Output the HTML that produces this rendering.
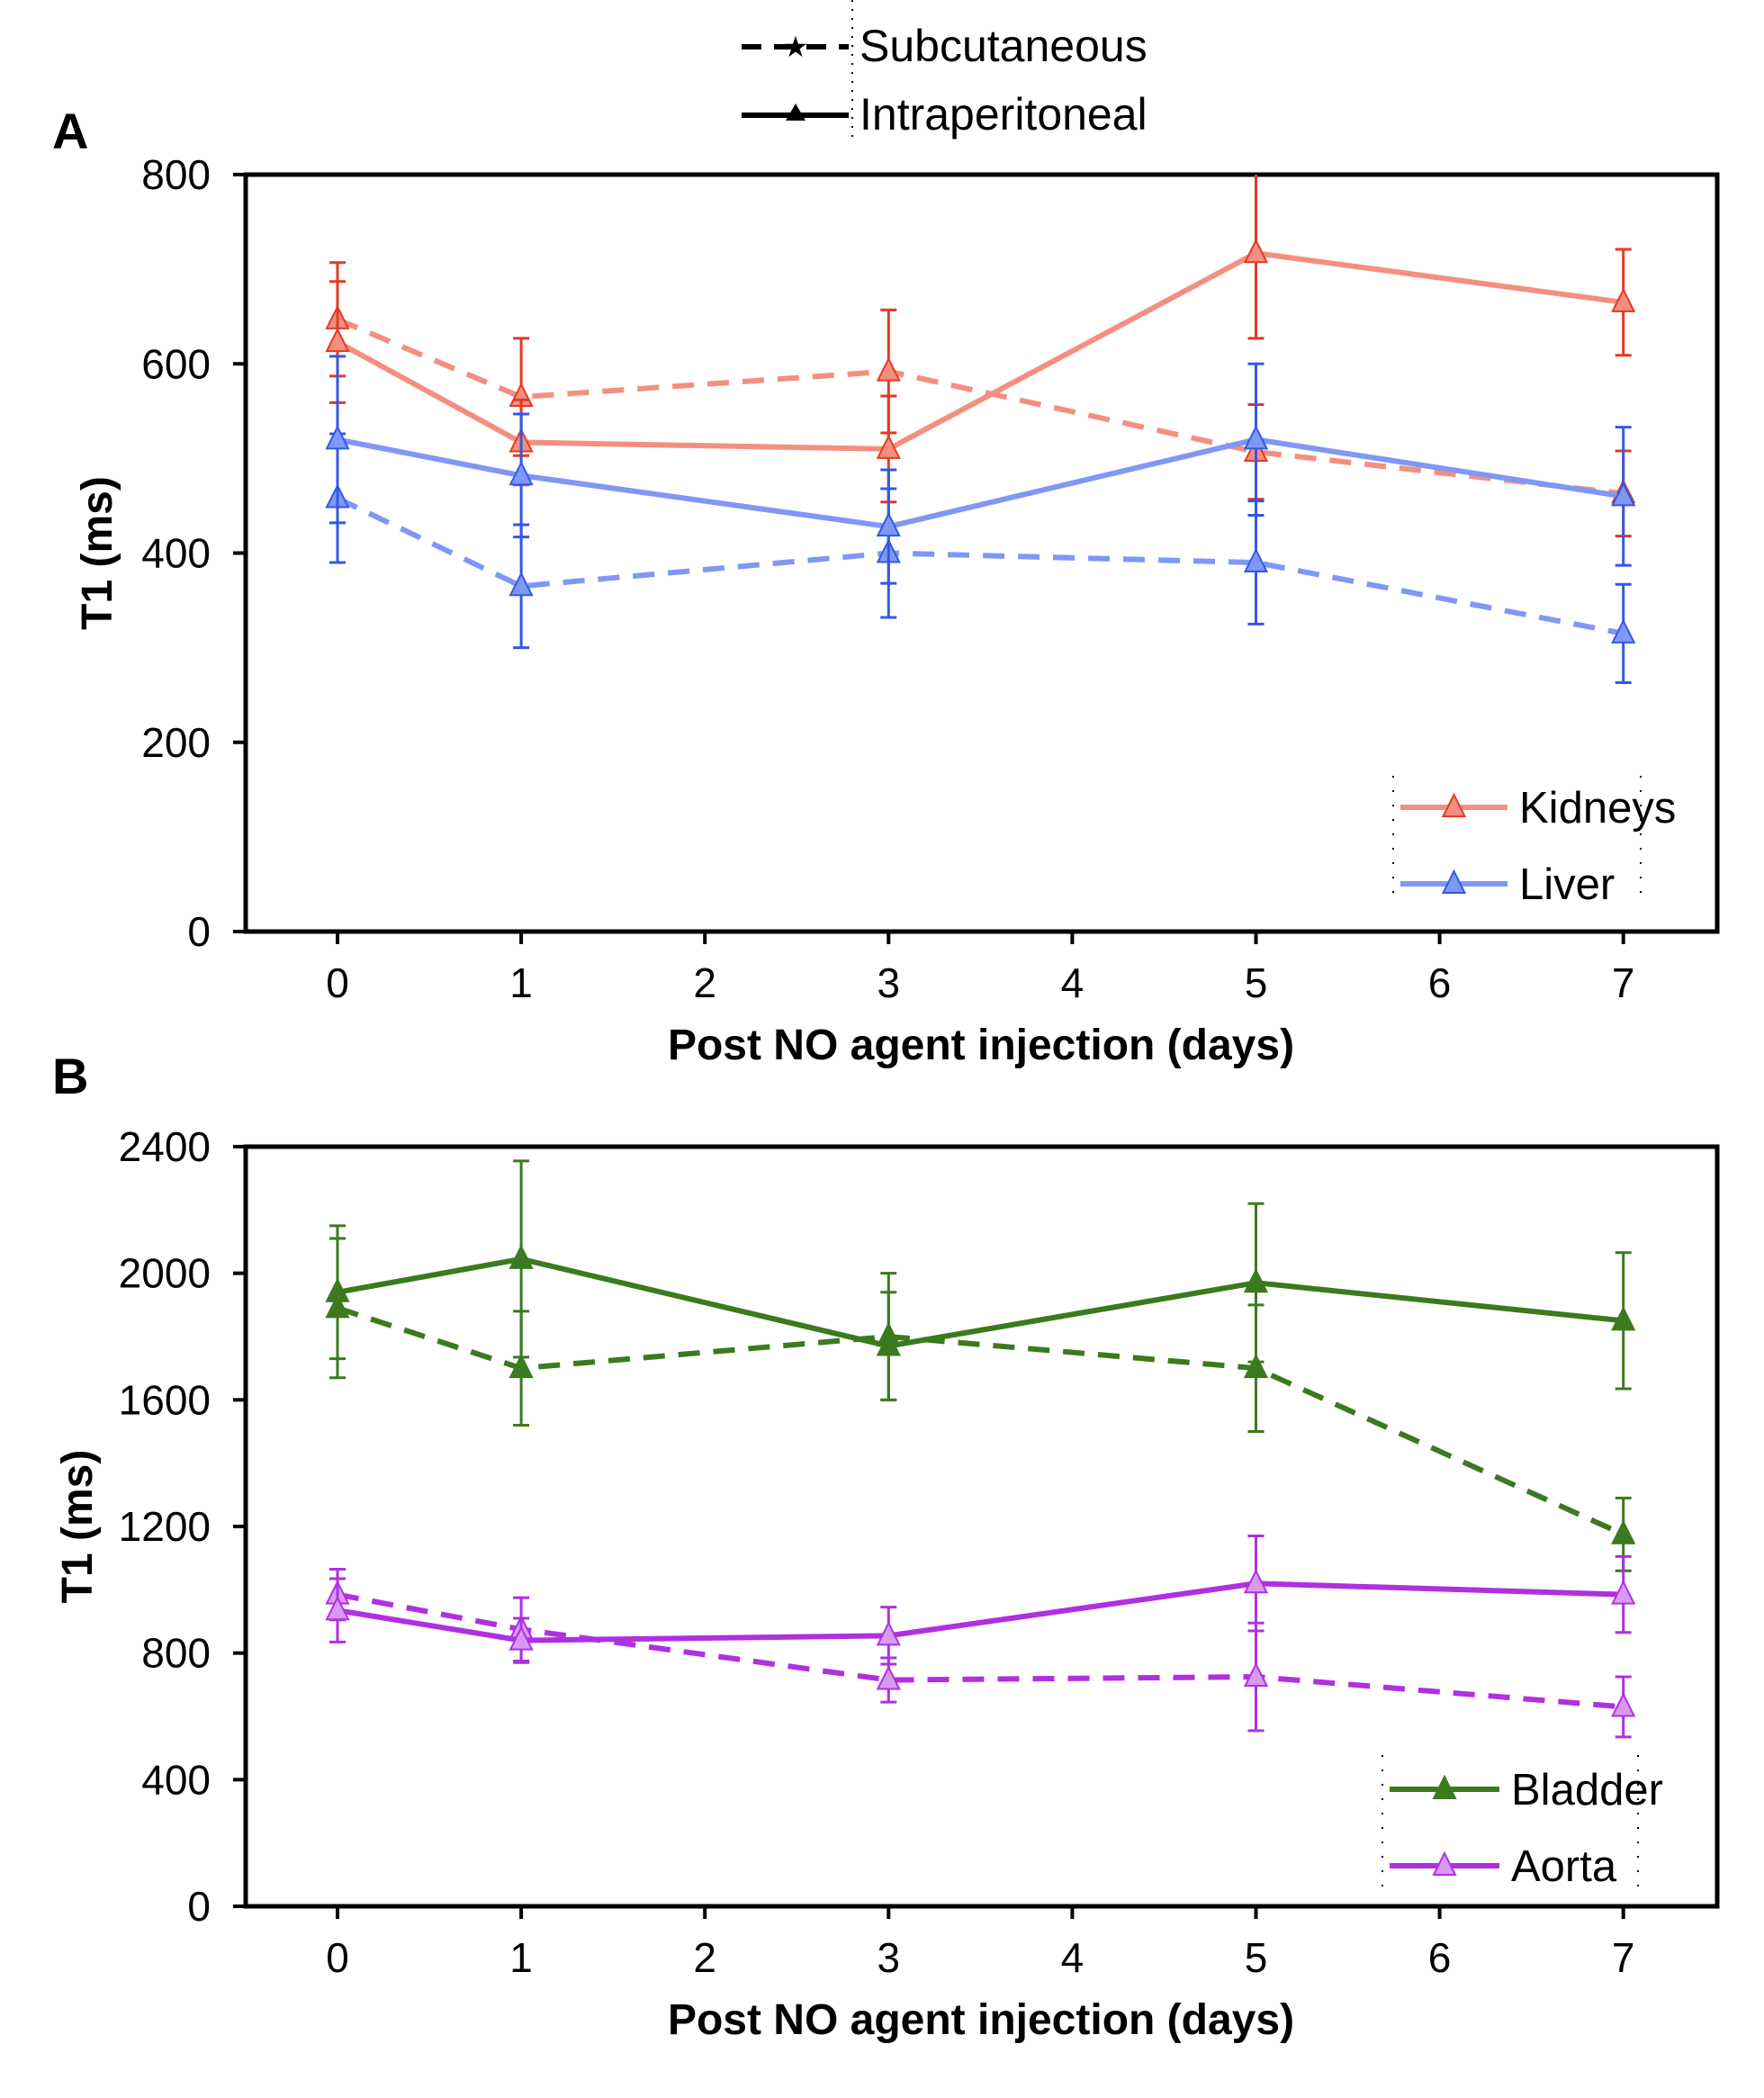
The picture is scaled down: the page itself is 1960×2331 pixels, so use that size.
<!DOCTYPE html>
<html><head><meta charset="utf-8"><style>
html,body{margin:0;padding:0;background:#fff;}
svg{display:block;font-family:"Liberation Sans",Arial,sans-serif;}
</style></head><body>
<svg id="fig" width="1960" height="2331" viewBox="0 0 1960 2331" xmlns="http://www.w3.org/2000/svg">
<defs>
<clipPath id="clipA"><rect x="273" y="194" width="1635" height="841"/></clipPath>
<clipPath id="clipB"><rect x="273" y="1274" width="1635" height="844"/></clipPath>
</defs>
<g>
  <line x1="947" y1="0" x2="947" y2="158" stroke="#000" stroke-width="2" stroke-dasharray="2,8"/>
  <line x1="824" y1="52" x2="943" y2="52" stroke="#000" stroke-width="6" stroke-dasharray="22,14"/>
  <text x="884" y="63" font-size="32" text-anchor="middle">★</text>
  <text x="955" y="68" font-size="50">Subcutaneous</text>
  <line x1="824" y1="128" x2="943" y2="128" stroke="#000" stroke-width="6"/>
  <polygon points="884,115 873,134 895,134" fill="#000"/>
  <text x="955" y="144" font-size="50">Intraperitoneal</text>
</g>
<text x="58" y="165" font-size="56" font-weight="bold">A</text>
<text x="58" y="1215" font-size="56" font-weight="bold">B</text>
<g id="chartA"></g>
<g id="chartB"></g>
</svg>
<script>
const days = [0, 1, 3, 5, 7];
const xTicks = [0, 1, 2, 3, 4, 5, 6, 7];
const ticksA = [0, 200, 400, 600, 800];
const ticksB = [0, 400, 800, 1200, 1600, 2000, 2400];
const kidneyIP = [623, 517, 510, 717, 665];
const kidneyIPErr = [64, 45, 56, 90, 56];
const kidneySC = [647, 565, 592, 507, 463];
const kidneySCErr = [60, 62, 65, 50, 45];
const liverIP = [520, 482, 428, 520, 460];
const liverIPErr = [88, 65, 60, 80, 73];
const liverSC = [458, 365, 400, 390, 315];
const liverSCErr = [68, 65, 68, 65, 52];
const bladderIP = [1940, 2045, 1770, 1970, 1850];
const bladderIPErr = [210, 310, 170, 250, 215];
const bladderSC = [1890, 1700, 1800, 1700, 1175];
const bladderSCErr = [220, 180, 200, 200, 115];
const aortaIP = [935, 840, 855, 1020, 985];
const aortaIPErr = [100, 70, 90, 150, 120];
const aortaSC = [985, 875, 715, 725, 630];
const aortaSCErr = [80, 100, 70, 170, 95];

const NS = 'http://www.w3.org/2000/svg';
function mk(parent, tag, attrs, text) {
  const e = document.createElementNS(NS, tag);
  for (const k in attrs) e.setAttribute(k, attrs[k]);
  if (text !== undefined) e.textContent = text;
  parent.appendChild(e);
  return e;
}
const L = 273, R = 1908, X0 = 375, DX = 204.1;
function xs(d) { return X0 + d * DX; }

function drawPanel(g, top, bot, maxV, ticks, prefix, titleX) {
  const ys = v => bot - (v / maxV) * (bot - top);
  const frame = mk(g, 'rect', {x: L, y: top, width: R - L, height: bot - top, fill: 'none', stroke: '#000', 'stroke-width': 5});
  
  
  ticks.forEach(t => {
    mk(g, 'line', {x1: L - 14, x2: L, y1: ys(t), y2: ys(t), stroke: '#000', 'stroke-width': 4});
    const tl = mk(g, 'text', {x: 234, y: ys(t) + 16, 'font-size': 46, 'text-anchor': 'end'}, String(t));
    
    
  });
  xTicks.forEach(t => {
    mk(g, 'line', {x1: xs(t), x2: xs(t), y1: bot, y2: bot + 14, stroke: '#000', 'stroke-width': 4});
    const tl = mk(g, 'text', {x: xs(t), y: bot + 73, 'font-size': 46, 'text-anchor': 'middle'}, String(t));
    
    
  });
  const xt = mk(g, 'text', {x: 1090, y: bot + 142, 'font-size': 48, 'font-weight': 'bold', 'text-anchor': 'middle'}, 'Post NO agent injection (days)');
  
  
  const cy = (top + bot) / 2;
  const yt = mk(g, 'text', {x: 0, y: 0, 'font-size': 48, 'font-weight': 'bold', 'text-anchor': 'middle', transform: 'translate(' + titleX + ',' + cy + ') rotate(-90)'}, 'T1 (ms)');
  
  
  return ys;
}

function series(g, ys, vals, errs, lineCol, barCol, fill, dashed, name, clip) {
  const s = mk(g, 'g', {'clip-path': 'url(#' + clip + ')'});
  
  
  vals.forEach((v, i) => {
    const x = xs(days[i]), y1 = ys(v + errs[i]), y2 = ys(v - errs[i]);
    mk(s, 'line', {x1: x, x2: x, y1: y1, y2: y2, stroke: barCol, 'stroke-width': 3});
    mk(s, 'line', {x1: x - 9, x2: x + 9, y1: y1, y2: y1, stroke: barCol, 'stroke-width': 3});
    mk(s, 'line', {x1: x - 9, x2: x + 9, y1: y2, y2: y2, stroke: barCol, 'stroke-width': 3});
  });
  const pts = vals.map((v, i) => xs(days[i]) + ',' + ys(v)).join(' ');
  const pl = mk(s, 'polyline', {points: pts, fill: 'none', stroke: lineCol, 'stroke-width': 6});
  if (dashed) pl.setAttribute('stroke-dasharray', '24,15');
  vals.forEach((v, i) => {
    const x = xs(days[i]), y = ys(v);
    const m = mk(s, 'polygon', {points: (x) + ',' + (y - 14) + ' ' + (x - 12) + ',' + (y + 10) + ' ' + (x + 12) + ',' + (y + 10), fill: fill, stroke: barCol, 'stroke-width': 2});
    
    
  });
}

function legend(g, x1, x2, entries, boxTop, boxBot, boxR, prefix) {
  mk(g, 'line', {x1: x1 - 8, x2: x1 - 8, y1: boxTop, y2: boxBot, stroke: '#000', 'stroke-width': 2, 'stroke-dasharray': '2,14'});
  mk(g, 'line', {x1: boxR, x2: boxR, y1: boxTop, y2: boxBot, stroke: '#000', 'stroke-width': 2, 'stroke-dasharray': '2,14'});
  entries.forEach(e => {
    const le = mk(g, 'g', {});
    
    
    mk(le, 'line', {x1: x1, x2: x2, y1: e.y, y2: e.y, stroke: e.line, 'stroke-width': 6});
    const cx = (x1 + x2) / 2;
    mk(le, 'polygon', {points: cx + ',' + (e.y - 14) + ' ' + (cx - 12) + ',' + (e.y + 10) + ' ' + (cx + 12) + ',' + (e.y + 10), fill: e.fill, stroke: e.bar, 'stroke-width': 2});
    mk(le, 'text', {x: x2 + 13, y: e.y + 17, 'font-size': 49}, e.label);
  });
}

const gA = document.getElementById('chartA');
const ysA = drawPanel(gA, 194, 1035, 800, ticksA, 'panel-a', 124);
series(gA, ysA, kidneySC, kidneySCErr, '#f48f80', '#e43a22', '#f48f80', true, 'kidneys-subcutaneous', 'clipA');
series(gA, ysA, liverSC, liverSCErr, '#7f97f5', '#3358e6', '#7f97f5', true, 'liver-subcutaneous', 'clipA');
series(gA, ysA, kidneyIP, kidneyIPErr, '#f48f80', '#e43a22', '#f48f80', false, 'kidneys-intraperitoneal', 'clipA');
series(gA, ysA, liverIP, liverIPErr, '#7f97f5', '#3358e6', '#7f97f5', false, 'liver-intraperitoneal', 'clipA');
legend(gA, 1556, 1675, [
  {y: 897, label: 'Kidneys', line: '#f48f80', bar: '#e43a22', fill: '#f48f80'},
  {y: 982, label: 'Liver', line: '#7f97f5', bar: '#3358e6', fill: '#7f97f5'}
], 862, 1002, 1823, 'panel-a');

const gB = document.getElementById('chartB');
const ysB = drawPanel(gB, 1274, 2118, 2400, ticksB, 'panel-b', 102);
series(gB, ysB, bladderSC, bladderSCErr, '#3b7a1e', '#3b7a1e', '#3b7a1e', true, 'bladder-subcutaneous', 'clipB');
series(gB, ysB, aortaSC, aortaSCErr, '#b030e0', '#b030e0', '#d89af0', true, 'aorta-subcutaneous', 'clipB');
series(gB, ysB, bladderIP, bladderIPErr, '#3b7a1e', '#3b7a1e', '#3b7a1e', false, 'bladder-intraperitoneal', 'clipB');
series(gB, ysB, aortaIP, aortaIPErr, '#b030e0', '#b030e0', '#d89af0', false, 'aorta-intraperitoneal', 'clipB');
legend(gB, 1544, 1666, [
  {y: 1988, label: 'Bladder', line: '#3b7a1e', bar: '#3b7a1e', fill: '#3b7a1e'},
  {y: 2073, label: 'Aorta', line: '#b030e0', bar: '#b030e0', fill: '#d89af0'}
], 1950, 2100, 1820, 'panel-b');
</script>
</body></html>
